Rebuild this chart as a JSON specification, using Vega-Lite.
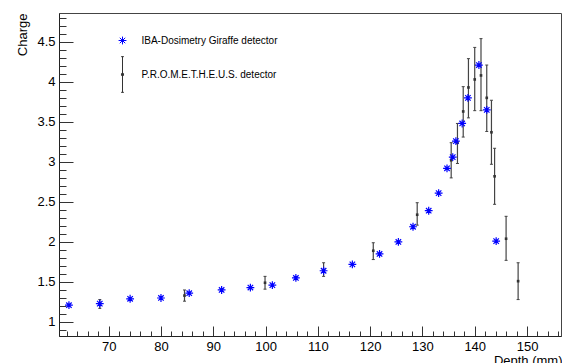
{
  "$schema": "https://vega.github.io/schema/vega-lite/v6.json",
  "width": 502,
  "height": 323,
  "autosize": {"type": "none"},
  "padding": {"left": 59, "top": 13, "right": 1, "bottom": 27},
  "background": "white",
  "config": {
    "view": {"stroke": "#444", "strokeWidth": 1},
    "font": "Liberation Sans",
    "axis": {"labelFont": "Liberation Sans", "titleFont": "Liberation Sans", "labelColor": "#000", "titleColor": "#000", "grid": false, "domainColor": "#333", "tickColor": "#333", "titleFontWeight": "normal", "labelFontSize": 13, "titleFontSize": 13}
  },
  "datasets": {
    "iba": [
      {"depth": 62.4, "charge": 1.21, "detector": "IBA-Dosimetry Giraffe detector"},
      {"depth": 68.3, "charge": 1.23, "detector": "IBA-Dosimetry Giraffe detector"},
      {"depth": 74.1, "charge": 1.29, "detector": "IBA-Dosimetry Giraffe detector"},
      {"depth": 80.0, "charge": 1.30, "detector": "IBA-Dosimetry Giraffe detector"},
      {"depth": 85.4, "charge": 1.36, "detector": "IBA-Dosimetry Giraffe detector"},
      {"depth": 91.6, "charge": 1.40, "detector": "IBA-Dosimetry Giraffe detector"},
      {"depth": 97.1, "charge": 1.43, "detector": "IBA-Dosimetry Giraffe detector"},
      {"depth": 101.3, "charge": 1.46, "detector": "IBA-Dosimetry Giraffe detector"},
      {"depth": 105.8, "charge": 1.55, "detector": "IBA-Dosimetry Giraffe detector"},
      {"depth": 111.1, "charge": 1.64, "detector": "IBA-Dosimetry Giraffe detector"},
      {"depth": 116.6, "charge": 1.72, "detector": "IBA-Dosimetry Giraffe detector"},
      {"depth": 121.8, "charge": 1.85, "detector": "IBA-Dosimetry Giraffe detector"},
      {"depth": 125.4, "charge": 2.00, "detector": "IBA-Dosimetry Giraffe detector"},
      {"depth": 128.2, "charge": 2.19, "detector": "IBA-Dosimetry Giraffe detector"},
      {"depth": 131.2, "charge": 2.39, "detector": "IBA-Dosimetry Giraffe detector"},
      {"depth": 133.1, "charge": 2.61, "detector": "IBA-Dosimetry Giraffe detector"},
      {"depth": 134.7, "charge": 2.92, "detector": "IBA-Dosimetry Giraffe detector"},
      {"depth": 135.8, "charge": 3.06, "detector": "IBA-Dosimetry Giraffe detector"},
      {"depth": 136.4, "charge": 3.26, "detector": "IBA-Dosimetry Giraffe detector"},
      {"depth": 137.6, "charge": 3.48, "detector": "IBA-Dosimetry Giraffe detector"},
      {"depth": 138.7, "charge": 3.80, "detector": "IBA-Dosimetry Giraffe detector"},
      {"depth": 140.8, "charge": 4.21, "detector": "IBA-Dosimetry Giraffe detector"},
      {"depth": 142.3, "charge": 3.65, "detector": "IBA-Dosimetry Giraffe detector"},
      {"depth": 144.1, "charge": 2.01, "detector": "IBA-Dosimetry Giraffe detector"}
    ],
    "prom": [
      {"depth": 68.3, "charge": 1.23, "lo": 1.17, "hi": 1.28},
      {"depth": 84.5, "charge": 1.33, "lo": 1.26, "hi": 1.40},
      {"depth": 99.9, "charge": 1.49, "lo": 1.41, "hi": 1.57},
      {"depth": 111.1, "charge": 1.65, "lo": 1.57, "hi": 1.74},
      {"depth": 120.6, "charge": 1.89, "lo": 1.78, "hi": 1.99},
      {"depth": 129.0, "charge": 2.34, "lo": 2.21, "hi": 2.49},
      {"depth": 135.5, "charge": 3.02, "lo": 2.80, "hi": 3.24},
      {"depth": 136.7, "charge": 3.24, "lo": 2.98, "hi": 3.48},
      {"depth": 137.8, "charge": 3.63, "lo": 3.31, "hi": 3.94},
      {"depth": 138.8, "charge": 3.93, "lo": 3.55, "hi": 4.29},
      {"depth": 140.0, "charge": 4.03, "lo": 3.64, "hi": 4.43},
      {"depth": 141.2, "charge": 4.08, "lo": 3.64, "hi": 4.54},
      {"depth": 142.3, "charge": 3.80, "lo": 3.38, "hi": 4.21},
      {"depth": 143.2, "charge": 3.37, "lo": 2.97, "hi": 3.77},
      {"depth": 143.8, "charge": 2.82, "lo": 2.47, "hi": 3.17},
      {"depth": 146.0, "charge": 2.04, "lo": 1.77, "hi": 2.32},
      {"depth": 148.3, "charge": 1.51, "lo": 1.28, "hi": 1.74}
    ]
  },
  "resolve": {"axis": {"x": "independent", "y": "independent"}},
  "layer": [
    {
      "data": {"name": "prom"},
      "mark": {"type": "rule", "color": "#444", "strokeWidth": 1.2},
      "encoding": {
        "x": {"field": "depth", "type": "quantitative", "scale": {"domain": [60.5, 156.5], "nice": false, "zero": false},
          "axis": {"orient": "bottom", "values": [70, 80, 90, 100, 110, 120, 130, 140, 150], "tickSize": -10, "labelPadding": 14, "labelExpr": "datum.value", "title": "Depth (mm)", "titleAnchor": "end", "titleAlign": "right", "titleX": 503, "titleY": 28, "titleBaseline": "alphabetic", "domainColor": "#222"}},
        "y": {"field": "lo", "type": "quantitative", "scale": {"domain": [0.825, 4.86], "nice": false, "zero": false},
          "axis": {"orient": "left", "values": [1, 1.5, 2, 2.5, 3, 3.5, 4, 4.5], "tickSize": -14, "labelPadding": 18, "labelExpr": "datum.value", "title": "Charge", "titleAngle": -90, "titleAlign": "right", "titleBaseline": "middle", "titleX": -37, "titleY": 0, "domainColor": "#222"}},
        "y2": {"field": "hi"}
      }
    },
    {
      "data": {"name": "prom"},
      "transform": [{"fold": ["lo", "hi"], "as": ["end", "val"]}],
      "mark": {"type": "point", "shape": "M-1,0L1,0", "size": 9, "filled": false, "color": "#444", "strokeWidth": 1, "opacity": 1},
      "encoding": {
        "x": {"field": "depth", "type": "quantitative", "scale": {"domain": [60.5, 156.5], "nice": false, "zero": false},
          "axis": {"orient": "bottom", "values": [62, 64, 66, 68, 72, 74, 76, 78, 82, 84, 86, 88, 92, 94, 96, 98, 102, 104, 106, 108, 112, 114, 116, 118, 122, 124, 126, 128, 132, 134, 136, 138, 142, 144, 146, 148, 152, 154, 156], "tickSize": -5, "labels": false, "domain": false, "title": null}},
        "y": {"field": "val", "type": "quantitative", "scale": {"domain": [0.825, 4.86], "nice": false, "zero": false},
          "axis": {"orient": "left", "values": [0.9, 1.1, 1.2, 1.3, 1.4, 1.6, 1.7, 1.8, 1.9, 2.1, 2.2, 2.3, 2.4, 2.6, 2.7, 2.8, 2.9, 3.1, 3.2, 3.3, 3.4, 3.6, 3.7, 3.8, 3.9, 4.1, 4.2, 4.3, 4.4, 4.6, 4.7, 4.8], "tickSize": -7, "labels": false, "domain": false, "title": null}}
      }
    },
    {
      "data": {"name": "prom"},
      "mark": {"type": "square", "size": 7, "color": "#333", "opacity": 1},
      "encoding": {
        "x": {"field": "depth", "type": "quantitative", "scale": {"domain": [60.5, 156.5], "nice": false, "zero": false}, "axis": null},
        "y": {"field": "charge", "type": "quantitative", "scale": {"domain": [0.825, 4.86], "nice": false, "zero": false}, "axis": null}
      }
    },
    {
      "data": {"name": "iba"},
      "mark": {"type": "point", "filled": false, "size": 1156, "strokeWidth": 1.2, "opacity": 1},
      "encoding": {
        "x": {"field": "depth", "type": "quantitative", "scale": {"domain": [60.5, 156.5], "nice": false, "zero": false}, "axis": null},
        "y": {"field": "charge", "type": "quantitative", "scale": {"domain": [0.825, 4.86], "nice": false, "zero": false}, "axis": null},
        "color": {"field": "detector", "type": "nominal",
          "scale": {"domain": ["IBA-Dosimetry Giraffe detector", "P.R.O.M.E.T.H.E.U.S. detector"], "range": ["#0000ff", "#333333"]},
          "legend": {"orient": "none", "legendX": 46, "legendY": 10, "title": null, "symbolSize": 1156, "symbolStrokeWidth": 1, "labelFontSize": 10, "labelFont": "Liberation Sans", "labelColor": "#000", "labelOffset": 1.5, "rowPadding": 7, "padding": 0, "offset": 0}},
        "shape": {"field": "detector", "type": "nominal",
          "scale": {"domain": ["IBA-Dosimetry Giraffe detector", "P.R.O.M.E.T.H.E.U.S. detector"], "range": ["M-0.23,0L0.23,0M0,-0.23L0,0.23M-0.16,-0.16L0.16,0.16M-0.16,0.16L0.16,-0.16", "M0,-1.05L0,1.05M-0.08,-1.05L0.08,-1.05M-0.08,1.05L0.08,1.05M-0.06,-0.06L0.06,-0.06L0.06,0.06L-0.06,0.06Z"]}}
      }
    }
  ]
}
